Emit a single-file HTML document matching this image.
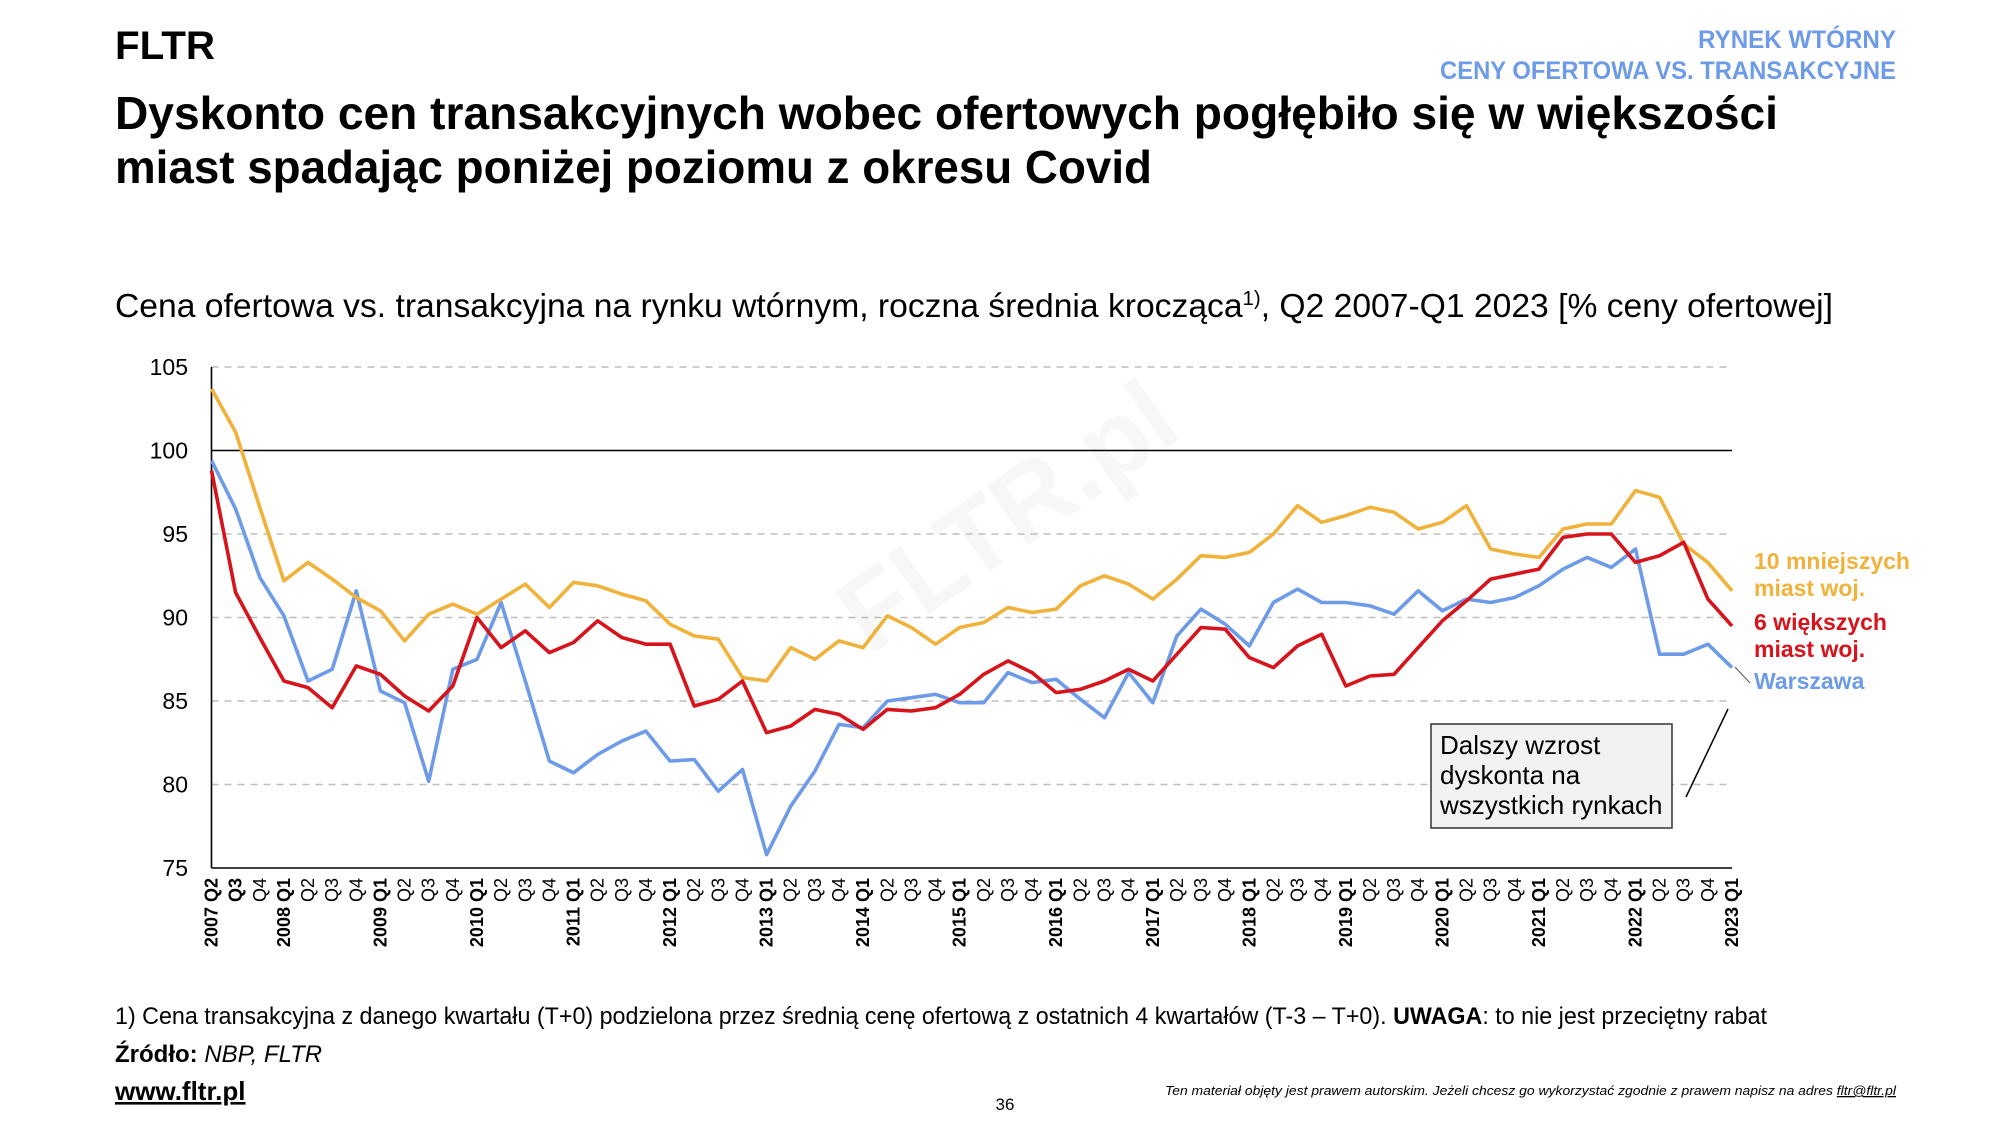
<!DOCTYPE html>
<html><head><meta charset="utf-8">
<style>
html,body{margin:0;padding:0;background:#fff;}
svg{display:block;font-family:"Liberation Sans",sans-serif;}
</style></head>
<body>
<svg id="root" width="2000" height="1125" viewBox="0 0 2000 1125">
  <text x="1020" y="560" font-size="105" font-weight="bold" fill="#f7f7f7" transform="rotate(-35 1000 540)" text-anchor="middle">FLTR.pl</text>
  <text x="115" y="59" font-size="40" font-weight="bold" fill="#000" textLength="100" lengthAdjust="spacingAndGlyphs">FLTR</text>
  <text x="1896" y="48" font-size="25" font-weight="bold" fill="#6d9be8" text-anchor="end" textLength="198" lengthAdjust="spacingAndGlyphs">RYNEK WTÓRNY</text>
  <text x="1896" y="79" font-size="25" font-weight="bold" fill="#6d9be8" text-anchor="end" textLength="456" lengthAdjust="spacingAndGlyphs">CENY OFERTOWA VS. TRANSAKCYJNE</text>
  <text x="115" y="129" font-size="46" font-weight="bold" fill="#000" textLength="1663" lengthAdjust="spacingAndGlyphs">Dyskonto cen transakcyjnych wobec ofertowych pogłębiło się w większości</text>
  <text x="115" y="183" font-size="46" font-weight="bold" fill="#000" textLength="1037" lengthAdjust="spacingAndGlyphs">miast spadając poniżej poziomu z okresu Covid</text>
  <text x="115" y="317" font-size="33" fill="#000" textLength="1718" lengthAdjust="spacingAndGlyphs">Cena ofertowa vs. transakcyjna na rynku wtórnym, roczna średnia krocząca<tspan font-size="20" dy="-12">1)</tspan><tspan dy="12">, Q2 2007-Q1 2023 [% ceny ofertowej]</tspan></text>
  <g id="chart"></g>
  <rect x="1431" y="724" width="241" height="104" fill="#f2f2f2" stroke="#333" stroke-width="1.5"/>
  <text font-size="26" fill="#000"><tspan x="1440" y="754">Dalszy wzrost</tspan><tspan x="1440" y="784">dyskonta na</tspan><tspan x="1440" y="814">wszystkich rynkach</tspan></text>
  <line x1="1686" y1="797" x2="1728" y2="709" stroke="#000" stroke-width="1.5"/>
  <text x="1754" y="569" font-size="23" font-weight="bold" fill="#f0b23a"><tspan x="1754">10 mniejszych</tspan><tspan x="1754" dy="27">miast woj.</tspan></text>
  <text x="1754" y="630" font-size="23" font-weight="bold" fill="#d7131b"><tspan x="1754">6 większych</tspan><tspan x="1754" dy="27">miast woj.</tspan></text>
  <text x="1754" y="689" font-size="23" font-weight="bold" fill="#6d9be8">Warszawa</text>
  <line x1="1735" y1="667" x2="1750" y2="683" stroke="#555" stroke-width="1"/>
  <text x="115" y="1024" font-size="24" fill="#000" textLength="1652" lengthAdjust="spacingAndGlyphs">1) Cena transakcyjna z danego kwartału (T+0) podzielona przez średnią cenę ofertową z ostatnich 4 kwartałów (T-3 – T+0). <tspan font-weight="bold">UWAGA</tspan>: to nie jest przeciętny rabat</text>
  <text x="115" y="1062" font-size="24" fill="#000"><tspan font-weight="bold">Źródło:</tspan> <tspan font-style="italic">NBP, FLTR</tspan></text>
  <text x="115" y="1100" font-size="26" font-weight="bold" fill="#000" text-decoration="underline">www.fltr.pl</text>
  <text x="1005" y="1110" font-size="17" fill="#000" text-anchor="middle">36</text>
  <text x="1896" y="1095" font-size="13" font-style="italic" fill="#000" text-anchor="end" textLength="731" lengthAdjust="spacingAndGlyphs">Ten materiał objęty jest prawem autorskim. Jeżeli chcesz go wykorzystać zgodnie z prawem napisz na adres <tspan text-decoration="underline">fltr@fltr.pl</tspan></text>
</svg>
<script>
const quarters = (function(){const a=[];for(let y=2007;y<=2023;y++){for(let q=1;q<=4;q++){if(y===2007&&q===1)continue;if(y===2023&&q>1)continue;a.push(y+' Q'+q);}}return a;})();
const smaller10 = [103.7,101.1,96.6,92.2,93.3,92.3,91.2,90.4,88.6,90.2,90.8,90.2,91.1,92.0,90.6,92.1,91.9,91.4,91.0,89.6,88.9,88.7,86.4,86.2,88.2,87.5,88.6,88.2,90.1,89.4,88.4,89.4,89.7,90.6,90.3,90.5,91.9,92.5,92.0,91.1,92.3,93.7,93.6,93.9,95.0,96.7,95.7,96.1,96.6,96.3,95.3,95.7,96.7,94.1,93.8,93.6,95.3,95.6,95.6,97.6,97.2,94.4,93.3,91.6];
const larger6 = [98.8,91.5,88.8,86.2,85.8,84.6,87.1,86.6,85.3,84.4,85.9,90.0,88.2,89.2,87.9,88.5,89.8,88.8,88.4,88.4,84.7,85.1,86.2,83.1,83.5,84.5,84.2,83.3,84.5,84.4,84.6,85.4,86.6,87.4,86.7,85.5,85.7,86.2,86.9,86.2,87.8,89.4,89.3,87.6,87.0,88.3,89.0,85.9,86.5,86.6,88.2,89.8,91.0,92.3,92.6,92.9,94.8,95.0,95.0,93.3,93.7,94.5,91.1,89.5];
const warszawa = [99.4,96.5,92.4,90.1,86.2,86.9,91.6,85.6,84.9,80.2,86.9,87.5,90.9,86.2,81.4,80.7,81.8,82.6,83.2,81.4,81.5,79.6,80.9,75.8,78.7,80.8,83.6,83.4,85.0,85.2,85.4,84.9,84.9,86.7,86.1,86.3,85.1,84.0,86.7,84.9,88.9,90.5,89.6,88.3,90.9,91.7,90.9,90.9,90.7,90.2,91.6,90.4,91.1,90.9,91.2,91.9,92.9,93.6,93.0,94.1,87.8,87.8,88.4,87.0];
const yTicks = [75,80,85,90,95,100,105];

const NS='http://www.w3.org/2000/svg';
const g=document.getElementById('chart');
const X0=211.5,X1=1732,Y0=868,Y1=367,YMIN=75,YMAX=105;
function xs(i){return X0+(X1-X0)*i/(quarters.length-1);}
function ys(v){return Y0-(v-YMIN)/(YMAX-YMIN)*(Y0-Y1);}
function mk(t,attrs){const e=document.createElementNS(NS,t);for(const k in attrs)e.setAttribute(k,attrs[k]);return e;}

yTicks.forEach(v=>{
  const y=ys(v);
  if(v!==YMIN){
    const l=mk('line',{x1:X0,x2:X1,y1:y,y2:y,stroke:v===100?'#000':'#bdbdbd','stroke-width':v===100?1.6:1.4,'stroke-dasharray':v===100?'none':'7 6'});
    
    
    g.appendChild(l);
  }
  const t=mk('text',{x:188,y:y+8,'font-size':23,'text-anchor':'end',fill:'#000'});
  t.textContent=v;
  
  
  g.appendChild(t);
});
const ax=mk('line',{x1:X0,x2:X0,y1:Y1,y2:Y0,stroke:'#000','stroke-width':1.6});


g.appendChild(ax);
const bx=mk('line',{x1:X0,x2:X1,y1:Y0,y2:Y0,stroke:'#000','stroke-width':1.6});


g.appendChild(bx);

quarters.forEach((lab,i)=>{
  const parts=lab.split(' ');
  const x=xs(i)+6, y=Y0+10;
  const t=mk('text',{x:x,y:y,'font-size':18,'text-anchor':'end',transform:'rotate(-90 '+x+' '+y+')',fill:'#000'});
  const first = i===0 || parts[1]==='Q1';
  const bold = first || i===1;
  if(first){const s=mk('tspan',{'font-weight':'bold'});s.textContent=parts[0]+' ';t.appendChild(s);}
  const q=mk('tspan',{'font-weight':bold?'bold':'normal'});q.textContent=parts[1];t.appendChild(q);
  
  
  g.appendChild(t);
});

function series(arr,color,name){
  const p=mk('polyline',{points:arr.map((v,i)=>xs(i).toFixed(1)+','+ys(v).toFixed(1)).join(' '),fill:'none',stroke:color,'stroke-width':3.6,'stroke-linejoin':'round'});
  
  
  g.appendChild(p);
}
series(warszawa,'#6d9be8','line-warszawa');
series(smaller10,'#f0b23a','line-10-smaller-cities');
series(larger6,'#d7131b','line-6-larger-cities');
</script>
</body></html>
